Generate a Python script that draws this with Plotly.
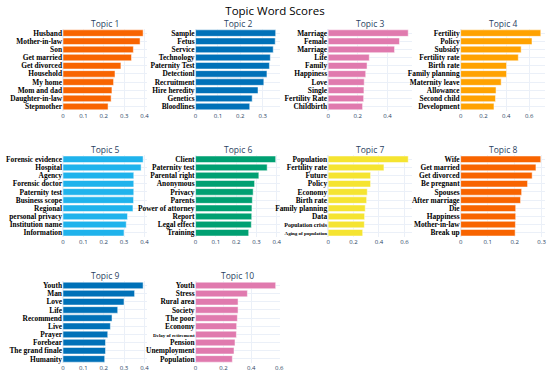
import plotly.graph_objects as go
from plotly.subplots import make_subplots

# ---- data (words listed top to bottom, as shown) ----
topic_titles = ["Topic 1", "Topic 2", "Topic 3", "Topic 4", "Topic 5",
                "Topic 6", "Topic 7", "Topic 8", "Topic 9", "Topic 10"]

topic1_words = ["Husband", "Mother-in-law", "Son", "Get married", "Get divorced",
                "Household", "My home", "Mom and dad", "Daughter-in-law", "Stepmother"]
topic1_scores = [0.393, 0.378, 0.345, 0.336, 0.284, 0.255, 0.248, 0.240, 0.236, 0.221]

topic2_words = ["Sample", "Fetus", "Service", "Technology", "Paternity Test",
                "Detectionl", "Recruitment", "Hire heredity", "Genetics", "Bloodlines"]
topic2_scores = [0.358, 0.356, 0.347, 0.334, 0.330, 0.319, 0.305, 0.279, 0.253, 0.242]

topic3_words = ["Marriage", "Female", "Marriage", "Life", "Family",
                "Happiness", "Love", "Single", "Fertility Rate", "Childbirth"]
topic3_scores = [0.539, 0.480, 0.447, 0.277, 0.262, 0.253, 0.243, 0.241, 0.239, 0.232]

topic4_words = ["Fertility", "Policy", "Subsidy", "Fertility rate", "Birth rate",
                "Family planning", "Maternity leave", "Allowance", "Second child", "Development"]
topic4_scores = [0.702, 0.625, 0.530, 0.505, 0.402, 0.402, 0.355, 0.310, 0.305, 0.292]

topic5_words = ["Forensic evidence", "Hospital", "Agency", "Forensic doctor", "Paternity test",
                "Business scope", "Regional", "personal privacy", "Institution name", "Information"]
topic5_scores = [0.394, 0.384, 0.348, 0.348, 0.348, 0.347, 0.344, 0.317, 0.311, 0.300]

topic6_words = ["Client", "Paternity test", "Parental right", "Anonymous", "Privacy",
                "Parents", "Power of attorney", "Report", "Legal effect", "Training"]
topic6_scores = [0.395, 0.353, 0.312, 0.291, 0.284, 0.280, 0.278, 0.277, 0.275, 0.262]

topic7_words = ["Population", "Fertility rate", "Future", "Policy", "Economy",
                "Birth rate", "Family planning", "Data", "Population crisis", "Aging of population"]
topic7_scores = [0.630, 0.439, 0.334, 0.334, 0.308, 0.303, 0.292, 0.287, 0.285, 0.272]

topic8_words = ["Wife", "Get married", "Get divorced", "Be pregnant", "Spouses",
                "After marriage", "Die", "Happiness", "Mother-in-law", "Break up"]
topic8_scores = [0.297, 0.279, 0.265, 0.248, 0.226, 0.222, 0.204, 0.204, 0.203, 0.202]

topic9_words = ["Youth", "Man", "Love", "Life", "Recommend",
                "Live", "Prayer", "Forebear", "The grand finale", "Humanity"]
topic9_scores = [0.394, 0.352, 0.300, 0.269, 0.241, 0.233, 0.220, 0.209, 0.209, 0.205]

topic10_words = ["Youth", "Stress", "Rural area", "Society", "The poor",
                 "Economy", "Delay of retirement", "Pension", "Unemployment", "Population"]
topic10_scores = [0.575, 0.372, 0.305, 0.305, 0.300, 0.295, 0.293, 0.283, 0.276, 0.264]

all_words = [topic1_words, topic2_words, topic3_words, topic4_words, topic5_words,
             topic6_words, topic7_words, topic8_words, topic9_words, topic10_words]
all_scores = [topic1_scores, topic2_scores, topic3_scores, topic4_scores, topic5_scores,
              topic6_scores, topic7_scores, topic8_scores, topic9_scores, topic10_scores]

# ---- style ----
palette = ["#F86400", "#0071B8", "#E07AAE", "#FFA200", "#1FB3EC", "#00A072", "#F5E431"]
small_labels = {(6, "Population crisis"): 6, (6, "Aging of population"): 5,
                (9, "Delay of retirement"): 5}

n_rows, n_cols = 3, 4
fig = make_subplots(
    rows=n_rows, cols=n_cols,
    specs=[[{}, {}, {}, {}], [{}, {}, {}, {}], [{}, {}, None, None]],
    horizontal_spacing=0.1, vertical_spacing=0.4 / 3,
    subplot_titles=topic_titles,
)

for i, (words, scores) in enumerate(zip(all_words, all_scores)):
    row, col = i // n_cols + 1, i % n_cols + 1
    n = len(words)
    pos = list(range(n - 1, -1, -1))
    fig.add_trace(go.Bar(x=scores, y=pos, orientation="h",
                         marker_color=palette[i % len(palette)]),
                  row=row, col=col)
    ticktext = []
    for w in words:
        sz = small_labels.get((i, w))
        ticktext.append(f"<span style='font-size:{sz}px'>{w}</span>" if sz else w)
    fig.update_yaxes(tickmode="array", tickvals=pos, ticktext=ticktext,
                     range=[-0.5, n - 0.5], row=row, col=col)

fig.update_xaxes(showgrid=True, tickfont=dict(size=6), automargin=False)
fig.update_yaxes(showgrid=True, automargin=False,
                 tickfont=dict(family="Liberation Serif, Times New Roman, serif",
                               size=7.4, color="black", weight="bold"))
fig.update_annotations(font=dict(size=8.5), yshift=-2)

fig.update_layout(
    template="plotly_white",
    showlegend=False,
    width=550, height=372,
    margin=dict(l=62.5, r=4.9, t=29.2, b=8.6),
    title=dict(text="Topic Word Scores", x=0.5, xanchor="center",
               y=1 - 10.5 / 372, yanchor="middle", yref="container",
               font=dict(size=11.5, color="black")),
)

fig.write_html("out.html", config={"displayModeBar": False},
               post_script="document.body.style.margin='0';document.body.style.overflow='hidden';")
